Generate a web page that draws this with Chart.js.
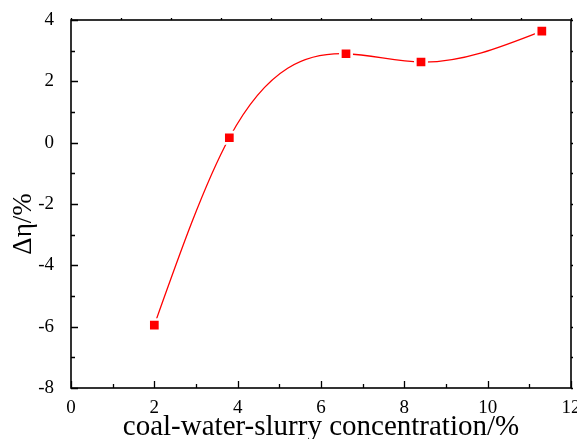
<!DOCTYPE html>
<html>
<head>
<meta charset="utf-8">
<script src="https://cdn.jsdelivr.net/npm/chart.js@4/dist/chart.umd.min.js"></script>
<style>
html,body{margin:0;padding:0;background:#fff;}
canvas{display:block;}
</style>
</head>
<body>
<canvas id="c" width="577" height="439"></canvas>
<script>
// ---- data ----
const concentration = [2.0, 3.8, 6.6, 8.4, 11.3];
const deltaEta = [-5.95, 0.16, 2.9, 2.63, 3.64];
const xTickValues = [0, 2, 4, 6, 8, 10, 12];
const yTickValues = [-8, -6, -4, -2, 0, 2, 4];
const xTitle = 'coal-water-slurry concentration/%';
const yTitle = 'Δη/%';

const SERIF = '"Liberation Serif", "Times New Roman", serif';

// natural cubic spline through the line's own points (control points only)
const splinePlugin = {
  id: 'naturalSpline',
  beforeDatasetDraw(chart, args) {
    const meta = args.meta;
    const line = meta.dataset;
    if (!line || !line.updateControlPoints) return;
    line.updateControlPoints(chart.chartArea, meta.iScale.axis);
    const pts = meta.data;
    const n = pts.length;
    if (n < 3) return;
    const X = pts.map(p => p.x), Y = pts.map(p => p.y);
    const h = [], d = [];
    for (let i = 0; i < n - 1; i++) { h[i] = X[i + 1] - X[i]; d[i] = (Y[i + 1] - Y[i]) / h[i]; }
    const M = new Array(n).fill(0);
    const a = [], b = [], c = [], r = [];
    for (let i = 1; i < n - 1; i++) { a[i] = h[i - 1]; b[i] = 2 * (h[i - 1] + h[i]); c[i] = h[i]; r[i] = 6 * (d[i] - d[i - 1]); }
    for (let i = 2; i < n - 1; i++) { const w = a[i] / b[i - 1]; b[i] -= w * c[i - 1]; r[i] -= w * r[i - 1]; }
    for (let i = n - 2; i >= 1; i--) { M[i] = (r[i] - c[i] * M[i + 1]) / b[i]; }
    const m = [];
    for (let i = 0; i < n; i++) {
      if (i < n - 1) m[i] = d[i] - h[i] * (2 * M[i] + M[i + 1]) / 6;
      else m[i] = d[i - 1] + h[i - 1] * (M[i - 1] + 2 * M[i]) / 6;
    }
    for (let i = 0; i < n; i++) {
      const p = pts[i];
      if (i > 0) { const k = h[i - 1] / 3; p.cp1x = X[i] - k; p.cp1y = Y[i] - m[i] * k; }
      if (i < n - 1) { const k = h[i] / 3; p.cp2x = X[i] + k; p.cp2y = Y[i] + m[i] * k; }
    }
    line._path = undefined;
  }
};

const framePlugin = {
  id: 'frame',
  afterDatasetsDraw(chart) {
    const ctx = chart.ctx;
    const a = chart.chartArea;
    const xs = chart.scales.x, ys = chart.scales.y, x2 = chart.scales.x2;
    ctx.save();
    ctx.strokeStyle = '#000';
    ctx.lineWidth = 1.6;
    ctx.strokeRect(a.left, a.top, a.right - a.left, a.bottom - a.top);
    ctx.lineWidth = 1.3;
    ctx.beginPath();
    for (let v = xs.min; v <= xs.max; v += 1) {
      const px = Math.round(xs.getPixelForValue(v)) + 0.5;
      const len = (v % 2 === 0) ? 7 : 4;
      ctx.moveTo(px, a.bottom); ctx.lineTo(px, a.bottom - len);
    }
    for (let v = ys.min; v <= ys.max; v += 1) {
      const py = Math.round(ys.getPixelForValue(v)) + 0.5;
      const len = (Math.abs(v) % 2 === 0) ? 7 : 4;
      ctx.moveTo(a.left, py); ctx.lineTo(a.left + len, py);
      ctx.moveTo(a.right, py); ctx.lineTo(a.right + 2, py);
    }
    for (let v = x2.min; v <= x2.max; v += 1) {
      const px = Math.round(x2.getPixelForValue(v)) + 0.5;
      ctx.moveTo(px, a.top); ctx.lineTo(px, a.top - 2);
    }
    ctx.stroke();

    ctx.fillStyle = '#000';
    ctx.font = '29px ' + SERIF;
    ctx.textAlign = 'center';
    ctx.textBaseline = 'alphabetic';
    ctx.fillText(xTitle, (a.left + a.right) / 2, 435);

    ctx.save();
    ctx.translate(31, 224);
    ctx.rotate(-Math.PI / 2);
    ctx.font = '27px ' + SERIF;
    ctx.textAlign = 'center';
    ctx.textBaseline = 'alphabetic';
    ctx.fillText(yTitle, 0, 0);
    ctx.restore();
    ctx.restore();
  }
};

new Chart(document.getElementById('c'), {
  type: 'line',
  data: {
    datasets: [{
      data: concentration.map((x, i) => ({x: x, y: deltaEta[i]})),
      borderColor: '#ff0000',
      borderWidth: 1.3,
      tension: 0.4,
      pointStyle: 'rect',
      pointRadius: 8,
      pointBackgroundColor: '#ff0000',
      pointBorderColor: '#ffffff',
      pointBorderWidth: 2.6,
      fill: false
    }]
  },
  options: {
    responsive: false,
    animation: false,
    devicePixelRatio: 1,
    layout: {autoPadding: false, padding: {left: 0, top: 20, right: 6, bottom: 0}},
    plugins: {legend: {display: false}, tooltip: {enabled: false}},
    scales: {
      x: {
        type: 'linear', position: 'bottom', min: 0, max: 12,
        afterBuildTicks: s => { s.ticks = xTickValues.map(v => ({value: v})); },
        afterFit: s => { s.height = 51; s.paddingLeft = 0; s.paddingRight = 0; },
        grid: {display: false}, border: {display: false},
        ticks: {color: '#000', font: {family: SERIF, size: 19}, padding: 1, maxRotation: 0}
      },
      x2: {
        type: 'linear', position: 'top', min: 0, max: 10, display: false
      },
      y: {
        type: 'linear', position: 'left', min: -8, max: 4,
        afterBuildTicks: s => { s.ticks = yTickValues.map(v => ({value: v})); },
        afterFit: s => { s.width = 71; s.paddingTop = 0; s.paddingBottom = 0; },
        grid: {display: false}, border: {display: false},
        ticks: {color: '#000', font: {family: SERIF, size: 19}, padding: 9}
      }
    }
  },
  plugins: [splinePlugin, framePlugin]
});
</script>
</body>
</html>
